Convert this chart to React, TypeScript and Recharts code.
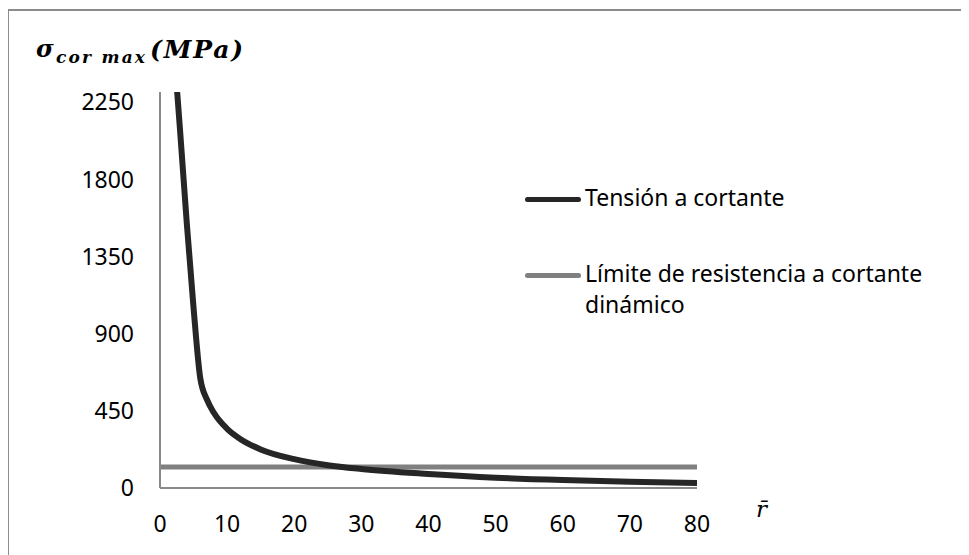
import { Legend, Line, LineChart, XAxis, YAxis } from 'recharts';

const rValues = [2, 3, 4, 5, 6, 7, 8, 10, 12, 15, 20, 25, 30, 40, 50, 60, 70, 80];
const tensionValues = [2600, 2080, 1540, 1050, 640, 515, 440, 345, 285, 225, 168, 133, 111, 82, 60, 46, 36, 29];
const limitR = [0, 80];
const limitValue = 122;
const xTicks = [0, 10, 20, 30, 40, 50, 60, 70, 80];
const yTicks = [0, 450, 900, 1350, 1800, 2250];

const tensionData = rValues.map((r, i) => ({ r, tension: tensionValues[i] }));
const limitData = limitR.map((r) => ({ r, limit: limitValue }));

const FONT = '"Noto Sans", sans-serif';
const AXIS = '#898989';

const legendItems = [
  { name: 'Tensión a cortante', color: '#262626', top: 0 },
  { name: 'Límite de resistencia a cortante dinámico', color: '#808080', top: 76 },
];

const LegendContent = () => (
  <div style={{ position: 'relative', width: 420, height: 140, fontFamily: FONT, fontSize: 23, lineHeight: '31px', color: '#000' }}>
    {legendItems.map((it) => (
      <div key={it.name} style={{ position: 'absolute', left: 0, top: it.top, display: 'flex', alignItems: 'flex-start' }}>
        <div style={{ width: 56, height: 5, background: it.color, borderRadius: 3, marginTop: 15 }} />
        <div style={{ marginLeft: 4, width: 350 }}>{it.name}</div>
      </div>
    ))}
  </div>
);

export default function App() {
  return (
    <div style={{ position: 'relative', width: 961, height: 547 }}>
      <div style={{ position: 'absolute', left: -1, top: 1, width: 962, height: 546, borderTop: '2px solid #8c8c8c', borderLeft: '2px solid #8c8c8c', boxSizing: 'border-box' }} />
      <LineChart width={961} height={547} data={tensionData} margin={{ top: 84, right: 272, bottom: 12, left: 52 }} style={{ position: 'absolute', left: 0, top: 0 }}>
        <XAxis
          dataKey="r" type="number" domain={[0, 80]} ticks={xTicks} interval={0}
          axisLine={{ stroke: AXIS, strokeWidth: 2 }} tickLine={false} tickMargin={22} height={55}
          tick={{ fill: '#000', fontSize: 23, fontFamily: FONT }}
        />
        <YAxis
          type="number" domain={[0, 2310]} ticks={yTicks} allowDataOverflow interval={0}
          axisLine={{ stroke: AXIS, strokeWidth: 2 }} tickLine={false} tickMargin={20} width={100}
          tick={{ fill: '#000', fontSize: 23, fontFamily: FONT }}
        />
        <Line data={limitData} dataKey="limit" name="Límite de resistencia a cortante dinámico" type="linear" stroke="#808080" strokeWidth={5} dot={false} isAnimationActive={false} />
        <Line data={tensionData} dataKey="tension" name="Tensión a cortante" type="monotone" stroke="#262626" strokeWidth={6} dot={false} isAnimationActive={false} />
        <Legend layout="horizontal" verticalAlign="middle" align="center" content={<LegendContent />} wrapperStyle={{ left: 517, top: 174, width: 420 }} />
      </LineChart>
      <svg width={961} height={547} style={{ position: 'absolute', left: 0, top: 0, pointerEvents: 'none' }}>
        <g fontFamily='"DejaVu Serif", serif' fontWeight="bold" fontStyle="italic" fill="#000">
          <text x={28} y={49} fontSize={24}>σ</text>
          <text x={48} y={55} fontSize={17} textLength={89} lengthAdjust="spacing">cor max</text>
          <text x={142} y={50} fontSize={25} textLength={93} lengthAdjust="spacing">(MPa)</text>
        </g>
        <text x={748} y={509} fontSize={23} fontFamily='"DejaVu Serif", serif' fontStyle="italic" fill="#000">r̄</text>
      </svg>
    </div>
  );
}
